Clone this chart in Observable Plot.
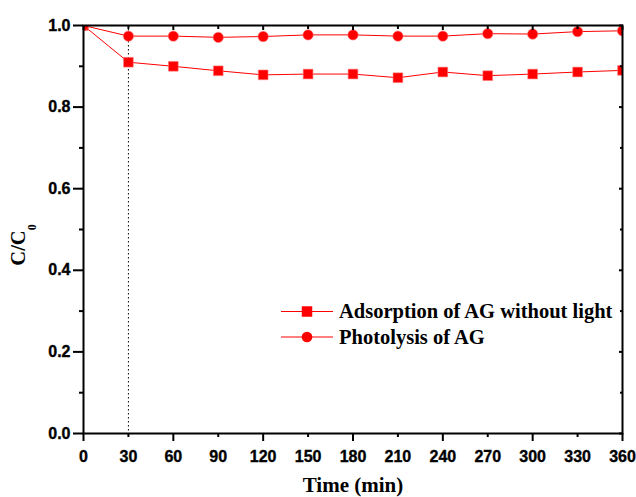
<!DOCTYPE html>
<html>
<head>
<meta charset="utf-8">
<script src="https://cdn.jsdelivr.net/npm/d3@7"></script>
<script src="https://cdn.jsdelivr.net/npm/@observablehq/plot@0.6"></script>
<style>
  html, body { margin: 0; padding: 0; background: #fff; }
  #chart { width: 636px; height: 497px; }
  #chart svg text.tick-lbl { font-family: 'Liberation Sans', Arial, sans-serif !important; font-weight: 700 !important; font-size: 16px !important; stroke: #000; stroke-width: 0.35px; }
  #chart svg text.serif-lbl { font-family: 'Liberation Serif', 'Times New Roman', serif !important; font-weight: 700 !important; }
</style>
</head>
<body>
<div id="chart"></div>
<script>
const times = [0, 30, 60, 90, 120, 150, 180, 210, 240, 270, 300, 330, 360];
const adsorption = [1.0, 0.910, 0.900, 0.889, 0.879, 0.881, 0.881, 0.872, 0.886, 0.877, 0.881, 0.886, 0.890];
const photolysis = [1.0, 0.974, 0.974, 0.971, 0.973, 0.977, 0.977, 0.974, 0.974, 0.980, 0.979, 0.985, 0.987];
const seriesNames = ["Adsorption of AG without light", "Photolysis of AG"];
const xTicks = [0, 30, 60, 90, 120, 150, 180, 210, 240, 270, 300, 330, 360];
const xMajor = [0, 60, 120, 180, 240, 300, 360];
const xMinor = [30, 90, 150, 210, 270, 330];
const yTicks = [0.0, 0.2, 0.4, 0.6, 0.8, 1.0];
const yMinor = [0.1, 0.3, 0.5, 0.7, 0.9];
const lightOnTime = [30];

const adsData = times.map((t, i) => ({t, v: adsorption[i]}));
const phoData = times.map((t, i) => ({t, v: photolysis[i]}));

const red = "#ff0000";

const plot = Plot.plot({
  width: 636,
  height: 497,
  marginLeft: 83,
  marginRight: 14,
  marginTop: 25,
  marginBottom: 64,
  style: {background: "#fff", color: "#000", overflow: "visible"},
  x: {domain: [0, 360]},
  y: {domain: [0, 1.0]},
  marks: [
    Plot.ruleX(lightOnTime, {stroke: "#000", strokeWidth: 1, strokeDasharray: "1.5,2.5"}),
    Plot.line(adsData, {x: "t", y: "v", stroke: red, strokeWidth: 1}),
    Plot.line(phoData, {x: "t", y: "v", stroke: red, strokeWidth: 1}),
    Plot.dot(adsData, {x: "t", y: "v", symbol: "square", r: 5.5, fill: red, stroke: "#ff8080", strokeWidth: 0.6, clip: true}),
    Plot.dot(phoData, {x: "t", y: "v", symbol: "circle", r: 5.2, fill: red, stroke: "#ff8080", strokeWidth: 0.6, clip: true}),
    Plot.frame({stroke: "#000", strokeWidth: 2}),
    // bottom axis
    Plot.axisX({anchor: "bottom", ticks: xTicks, tickSize: 0, tickPadding: 17, label: null, tickFormat: d => String(d)}),
    Plot.axisX({anchor: "bottom", ticks: xMajor, tickSize: 8, text: null, label: null, strokeWidth: 2}),
    Plot.axisX({anchor: "bottom", ticks: xMinor, tickSize: 4, text: null, label: null, strokeWidth: 2}),
    // top axis inward ticks
    Plot.axisX({anchor: "top", ticks: xMajor, tickSize: -4, text: null, label: null, strokeWidth: 2}),
    Plot.axisX({anchor: "top", ticks: xMinor, tickSize: -3, text: null, label: null, strokeWidth: 2}),
    // left axis
    Plot.axisY({anchor: "left", ticks: yTicks, tickSize: 10, tickPadding: 3, label: null, tickFormat: d => d.toFixed(1), strokeWidth: 2}),
    Plot.axisY({anchor: "left", ticks: yMinor, tickSize: 4, text: null, label: null, strokeWidth: 2}),
    // right axis inward ticks
    Plot.axisY({anchor: "right", ticks: yTicks, tickSize: -4, text: null, label: null, strokeWidth: 2}),
    Plot.axisY({anchor: "right", ticks: yMinor, tickSize: -3, text: null, label: null, strokeWidth: 2})
  ]
});

const svg = d3.select(plot);
svg.selectAll("text").classed("tick-lbl", true);

// clip markers to the plotting frame (from the plot's own scales)
const xr = plot.scale("x").range, yr = plot.scale("y").range;
const x0 = Math.min(...xr), x1 = Math.max(...xr), y0 = Math.min(...yr), y1 = Math.max(...yr);
svg.append("defs").append("clipPath").attr("id", "frameClip")
  .append("rect").attr("x", x0).attr("y", y0).attr("width", x1 - x0).attr("height", y1 - y0);
svg.selectAll("g[aria-label='dot']").attr("clip-path", "url(#frameClip)");

// axis labels
svg.append("text")
  .attr("class", "serif-lbl")
  .attr("x", 353).attr("y", 491.5)
  .attr("text-anchor", "middle")
  .attr("font-size", 21)
  .attr("fill", "#000")
  .text("Time (min)");

const yl = svg.append("text")
  .attr("class", "serif-lbl")
  .attr("transform", "translate(25,245) rotate(-90)")
  .attr("text-anchor", "middle")
  .attr("font-size", 20.5)
  .attr("fill", "#000");
yl.append("tspan").text("C/C");
yl.append("tspan").attr("font-size", 12).attr("dy", 11).text("0");

// legend
const legend = svg.append("g");
const symbols = [d3.symbolSquare, d3.symbolCircle];
const sizes = [110, 90];
seriesNames.forEach((name, i) => {
  const yy = 311.5 + i * 25.5;
  legend.append("line").attr("x1", 281).attr("x2", 333).attr("y1", yy).attr("y2", yy)
    .attr("stroke", red).attr("stroke-width", 1);
  legend.append("path").attr("d", d3.symbol(symbols[i], sizes[i])())
    .attr("transform", `translate(307,${yy})`).attr("fill", red);
  legend.append("text").attr("class", "serif-lbl")
    .attr("x", 339).attr("y", yy + 6.5)
    .attr("text-anchor", "start")
    .attr("font-size", 20.5)
    .attr("fill", "#000").text(name);
});

document.getElementById("chart").appendChild(plot);
</script>
</body>
</html>
